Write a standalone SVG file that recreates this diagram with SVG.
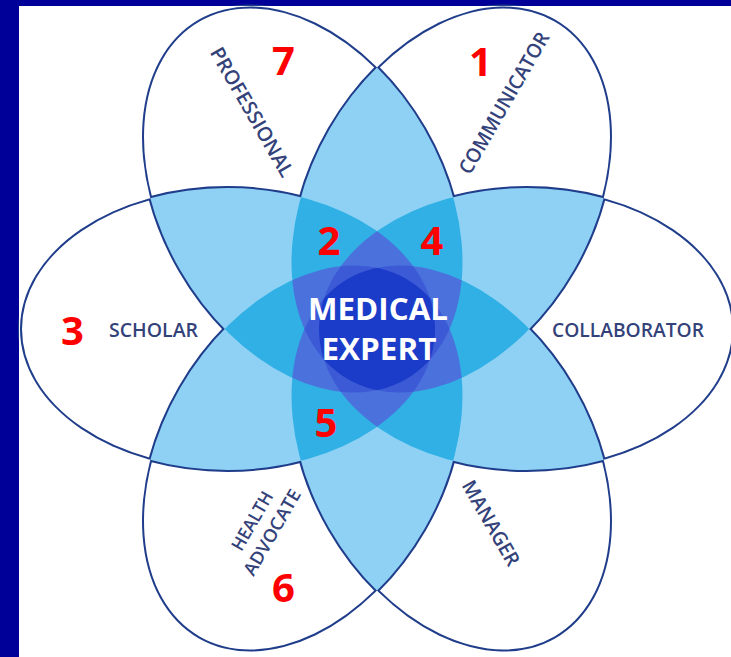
<svg xmlns="http://www.w3.org/2000/svg" xmlns:xlink="http://www.w3.org/1999/xlink" width="731" height="657" viewBox="0 0 731 657">
<style>
.lbl{font-family:"Open Sans","Liberation Sans",sans-serif;font-size:20px;font-weight:600;fill:#34427a;text-anchor:middle}
.sm{font-size:18px}
.num{font-family:"Open Sans","Liberation Sans",sans-serif;font-size:40px;font-weight:bold;fill:#ff0000;text-anchor:middle}
.me{font-family:"Open Sans","Liberation Sans",sans-serif;font-size:31px;font-weight:bold;fill:#ffffff;text-anchor:middle}
.f2{fill:#8ed1f5}
.f3{fill:#30b0e4}
.f4{fill:#4b72dc}
.f5{fill:#3c5ad6}
.f6{fill:#1b3cc9}
.ol{fill:none;stroke:#1f3d8a;stroke-width:4}
</style>
<defs>
<ellipse id="e0" cx="526.5" cy="329" rx="207.5" ry="141"/>
<ellipse id="e1" cx="451.75" cy="199.53" rx="207.5" ry="141" transform="rotate(-60 451.75 199.53)"/>
<ellipse id="e2" cx="302.25" cy="199.53" rx="207.5" ry="141" transform="rotate(60 302.25 199.53)"/>
<ellipse id="e3" cx="227.5" cy="329" rx="207.5" ry="141"/>
<ellipse id="e4" cx="302.25" cy="458.47" rx="207.5" ry="141" transform="rotate(-60 302.25 458.47)"/>
<ellipse id="e5" cx="451.75" cy="458.47" rx="207.5" ry="141" transform="rotate(60 451.75 458.47)"/>
<clipPath id="c0"><use href="#e0"/></clipPath>
<clipPath id="c1"><use href="#e1"/></clipPath>
<clipPath id="c2"><use href="#e2"/></clipPath>
<clipPath id="c3"><use href="#e3"/></clipPath>
<clipPath id="c4"><use href="#e4"/></clipPath>
<clipPath id="c5"><use href="#e5"/></clipPath>
<mask id="outside" maskUnits="userSpaceOnUse" x="0" y="0" width="731" height="657">
<rect x="0" y="0" width="731" height="657" fill="#fff"/>
<g fill="#000"><use href="#e0"/><use href="#e1"/><use href="#e2"/><use href="#e3"/><use href="#e4"/><use href="#e5"/></g>
</mask>
</defs>

<g id="background">
<rect x="0" y="0" width="731" height="657" fill="#000099"/>
<rect x="19" y="6" width="712" height="651" fill="#ffffff"/>
</g>

<g id="outlines" class="ol">
<use id="outline-collaborator" href="#e0"/>
<use id="outline-communicator" href="#e1"/>
<use id="outline-professional" href="#e2"/>
<use id="outline-scholar" href="#e3"/>
<use id="outline-health-advocate" href="#e4"/>
<use id="outline-manager" href="#e5"/>
</g>

<g id="overlap-2" class="f2">
<use href="#e1" clip-path="url(#c0)"/>
<use href="#e2" clip-path="url(#c0)"/>
<use href="#e3" clip-path="url(#c0)"/>
<use href="#e4" clip-path="url(#c0)"/>
<use href="#e5" clip-path="url(#c0)"/>
<use href="#e2" clip-path="url(#c1)"/>
<use href="#e3" clip-path="url(#c1)"/>
<use href="#e4" clip-path="url(#c1)"/>
<use href="#e5" clip-path="url(#c1)"/>
<use href="#e3" clip-path="url(#c2)"/>
<use href="#e4" clip-path="url(#c2)"/>
<use href="#e5" clip-path="url(#c2)"/>
<use href="#e4" clip-path="url(#c3)"/>
<use href="#e5" clip-path="url(#c3)"/>
<use href="#e5" clip-path="url(#c4)"/>
</g>

<rect id="outer-edge" x="19" y="6" width="712" height="651" fill="#ffffff" mask="url(#outside)"/>

<g id="overlap-3" class="f3">
<g clip-path="url(#c0)"><use href="#e2" clip-path="url(#c1)"/></g>
<g clip-path="url(#c0)"><use href="#e3" clip-path="url(#c1)"/></g>
<g clip-path="url(#c0)"><use href="#e4" clip-path="url(#c1)"/></g>
<g clip-path="url(#c0)"><use href="#e5" clip-path="url(#c1)"/></g>
<g clip-path="url(#c0)"><use href="#e3" clip-path="url(#c2)"/></g>
<g clip-path="url(#c0)"><use href="#e4" clip-path="url(#c2)"/></g>
<g clip-path="url(#c0)"><use href="#e5" clip-path="url(#c2)"/></g>
<g clip-path="url(#c0)"><use href="#e4" clip-path="url(#c3)"/></g>
<g clip-path="url(#c0)"><use href="#e5" clip-path="url(#c3)"/></g>
<g clip-path="url(#c0)"><use href="#e5" clip-path="url(#c4)"/></g>
<g clip-path="url(#c1)"><use href="#e3" clip-path="url(#c2)"/></g>
<g clip-path="url(#c1)"><use href="#e4" clip-path="url(#c2)"/></g>
<g clip-path="url(#c1)"><use href="#e5" clip-path="url(#c2)"/></g>
<g clip-path="url(#c1)"><use href="#e4" clip-path="url(#c3)"/></g>
<g clip-path="url(#c1)"><use href="#e5" clip-path="url(#c3)"/></g>
<g clip-path="url(#c1)"><use href="#e5" clip-path="url(#c4)"/></g>
<g clip-path="url(#c2)"><use href="#e4" clip-path="url(#c3)"/></g>
<g clip-path="url(#c2)"><use href="#e5" clip-path="url(#c3)"/></g>
<g clip-path="url(#c2)"><use href="#e5" clip-path="url(#c4)"/></g>
<g clip-path="url(#c3)"><use href="#e5" clip-path="url(#c4)"/></g>
</g>

<g id="overlap-4" class="f4">
<g clip-path="url(#c0)"><g clip-path="url(#c1)"><use href="#e3" clip-path="url(#c2)"/></g></g>
<g clip-path="url(#c0)"><g clip-path="url(#c1)"><use href="#e4" clip-path="url(#c2)"/></g></g>
<g clip-path="url(#c0)"><g clip-path="url(#c1)"><use href="#e5" clip-path="url(#c2)"/></g></g>
<g clip-path="url(#c0)"><g clip-path="url(#c1)"><use href="#e4" clip-path="url(#c3)"/></g></g>
<g clip-path="url(#c0)"><g clip-path="url(#c1)"><use href="#e5" clip-path="url(#c3)"/></g></g>
<g clip-path="url(#c0)"><g clip-path="url(#c1)"><use href="#e5" clip-path="url(#c4)"/></g></g>
<g clip-path="url(#c0)"><g clip-path="url(#c2)"><use href="#e4" clip-path="url(#c3)"/></g></g>
<g clip-path="url(#c0)"><g clip-path="url(#c2)"><use href="#e5" clip-path="url(#c3)"/></g></g>
<g clip-path="url(#c0)"><g clip-path="url(#c2)"><use href="#e5" clip-path="url(#c4)"/></g></g>
<g clip-path="url(#c0)"><g clip-path="url(#c3)"><use href="#e5" clip-path="url(#c4)"/></g></g>
<g clip-path="url(#c1)"><g clip-path="url(#c2)"><use href="#e4" clip-path="url(#c3)"/></g></g>
<g clip-path="url(#c1)"><g clip-path="url(#c2)"><use href="#e5" clip-path="url(#c3)"/></g></g>
<g clip-path="url(#c1)"><g clip-path="url(#c2)"><use href="#e5" clip-path="url(#c4)"/></g></g>
<g clip-path="url(#c1)"><g clip-path="url(#c3)"><use href="#e5" clip-path="url(#c4)"/></g></g>
<g clip-path="url(#c2)"><g clip-path="url(#c3)"><use href="#e5" clip-path="url(#c4)"/></g></g>
</g>

<g id="overlap-5" class="f5">
<g clip-path="url(#c0)"><g clip-path="url(#c1)"><g clip-path="url(#c2)"><use href="#e4" clip-path="url(#c3)"/></g></g></g>
<g clip-path="url(#c0)"><g clip-path="url(#c1)"><g clip-path="url(#c2)"><use href="#e5" clip-path="url(#c3)"/></g></g></g>
<g clip-path="url(#c0)"><g clip-path="url(#c1)"><g clip-path="url(#c2)"><use href="#e5" clip-path="url(#c4)"/></g></g></g>
<g clip-path="url(#c0)"><g clip-path="url(#c1)"><g clip-path="url(#c3)"><use href="#e5" clip-path="url(#c4)"/></g></g></g>
<g clip-path="url(#c0)"><g clip-path="url(#c2)"><g clip-path="url(#c3)"><use href="#e5" clip-path="url(#c4)"/></g></g></g>
<g clip-path="url(#c1)"><g clip-path="url(#c2)"><g clip-path="url(#c3)"><use href="#e5" clip-path="url(#c4)"/></g></g></g>
</g>

<g id="overlap-6" class="f6">
<g clip-path="url(#c0)"><g clip-path="url(#c1)"><g clip-path="url(#c2)"><g clip-path="url(#c3)"><use href="#e5" clip-path="url(#c4)"/></g></g></g></g>
</g>

<g id="node-medical-expert">
<text class="me" x="378" y="320" textLength="140" lengthAdjust="spacingAndGlyphs">MEDICAL</text>
<text class="me" x="379" y="360" textLength="115" lengthAdjust="spacingAndGlyphs">EXPERT</text>
</g>

<g id="node-communicator">
<text class="lbl" transform="translate(504 103) rotate(-60)" x="0" y="7" textLength="160" lengthAdjust="spacingAndGlyphs">COMMUNICATOR</text>
<text class="num" x="480.5" y="76">1</text>
</g>

<g id="node-professional">
<text class="lbl" transform="translate(252 112) rotate(60)" x="0" y="7" textLength="146" lengthAdjust="spacingAndGlyphs">PROFESSIONAL</text>
<text class="num" x="283.5" y="75">7</text>
</g>

<g id="node-scholar">
<text class="lbl" x="153.5" y="337" textLength="89" lengthAdjust="spacingAndGlyphs">SCHOLAR</text>
<text class="num" x="72.5" y="345">3</text>
</g>

<g id="node-collaborator">
<text class="lbl" x="628" y="337" textLength="152" lengthAdjust="spacingAndGlyphs">COLLABORATOR</text>
</g>

<g id="node-health-advocate">
<text class="lbl sm" transform="translate(262 526.5) rotate(-60)" x="0" y="-5" textLength="65" lengthAdjust="spacingAndGlyphs">HEALTH</text>
<text class="lbl sm" transform="translate(262 526.5) rotate(-60)" x="0" y="18" textLength="96" lengthAdjust="spacingAndGlyphs">ADVOCATE</text>
<text class="num" x="283.5" y="602">6</text>
</g>

<g id="node-manager">
<text class="lbl" transform="translate(491 523) rotate(60)" x="0" y="7" textLength="95" lengthAdjust="spacingAndGlyphs">MANAGER</text>
</g>

<g id="overlap-labels">
<text class="num" x="329" y="255">2</text>
<text class="num" x="432" y="255">4</text>
<text class="num" x="326" y="437">5</text>
</g>
</svg>
